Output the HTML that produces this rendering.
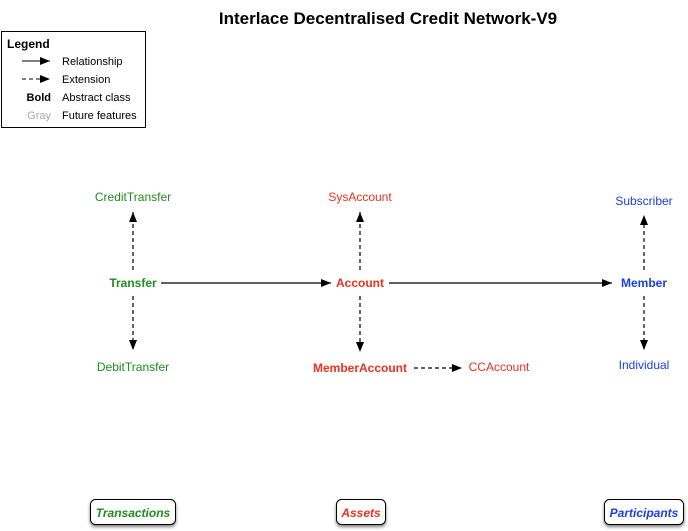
<!DOCTYPE html>
<html><head><style>
body{margin:0;background:#fff;}
svg{display:block;font-family:"Liberation Sans",sans-serif;}
</style></head><body>
<svg width="688" height="531" viewBox="0 0 688 531">
<defs>
<marker id="a" markerWidth="10" markerHeight="8" refX="10" refY="4" orient="auto" markerUnits="userSpaceOnUse"><path d="M0,0 L10,4 L0,8 z" fill="#000"/></marker>
<filter id="s" x="-20%" y="-20%" width="140%" height="160%"><feDropShadow dx="0" dy="2" stdDeviation="1.5" flood-opacity="0.5"/></filter>
</defs>
<text x="388" y="24" font-size="17" font-weight="bold" text-anchor="middle">Interlace Decentralised Credit Network-V9</text>
<rect x="1.5" y="31.5" width="144" height="96" fill="#fff" stroke="#000" stroke-width="1"/>
<text x="7" y="48" font-size="12" font-weight="bold">Legend</text>
<line x1="22" y1="61" x2="50" y2="61" stroke="#000" marker-end="url(#a)"/>
<text x="62" y="65" font-size="11">Relationship</text>
<line x1="22" y1="79" x2="50" y2="79" stroke="#000" stroke-dasharray="4,3" marker-end="url(#a)"/>
<text x="62" y="83" font-size="11">Extension</text>
<text x="51" y="101" font-size="11" font-weight="bold" text-anchor="end">Bold</text>
<text x="62" y="101" font-size="11">Abstract class</text>
<text x="51" y="119" font-size="11" fill="#aaa" text-anchor="end">Gray</text>
<text x="62" y="119" font-size="11">Future features</text>

<g font-size="12" text-anchor="middle">
<text x="133" y="201" fill="#1e8c1e">CreditTransfer</text>
<text x="133" y="287" fill="#1e8c1e" font-weight="bold">Transfer</text>
<text x="133" y="371" fill="#1e8c1e">DebitTransfer</text>
<text x="360" y="201" fill="#e8321e">SysAccount</text>
<text x="360" y="287" fill="#e8321e" font-weight="bold">Account</text>
<text x="360" y="372" fill="#e8321e" font-weight="bold">MemberAccount</text>
<text x="499" y="371" fill="#e8321e">CCAccount</text>
<text x="644" y="205" fill="#1a3fe0">Subscriber</text>
<text x="644" y="287" fill="#1a3fe0" font-weight="bold">Member</text>
<text x="644" y="369" fill="#1a3fe0">Individual</text>
</g>

<g stroke="#000" stroke-width="1.2" fill="none">
<line x1="161" y1="283" x2="331" y2="283" marker-end="url(#a)"/>
<line x1="389" y1="283" x2="612" y2="283" marker-end="url(#a)"/>
<g stroke-dasharray="4,3">
<line x1="133" y1="270" x2="133" y2="212" marker-end="url(#a)"/>
<line x1="133" y1="296" x2="133" y2="350" marker-end="url(#a)"/>
<line x1="360" y1="270" x2="360" y2="212" marker-end="url(#a)"/>
<line x1="360" y1="296" x2="360" y2="352" marker-end="url(#a)"/>
<line x1="414" y1="368" x2="462" y2="368" marker-end="url(#a)"/>
<line x1="644" y1="270" x2="644" y2="215" marker-end="url(#a)"/>
<line x1="644" y1="296" x2="644" y2="350" marker-end="url(#a)"/>
</g>
</g>

<g filter="url(#s)" fill="#fff" stroke="#000" stroke-width="1">
<rect x="90.5" y="499.5" width="85" height="25" rx="5"/>
<rect x="336.5" y="499.5" width="49" height="25" rx="5"/>
<rect x="604.5" y="499.5" width="79" height="25" rx="5"/>
</g>
<g font-size="12" font-weight="bold" font-style="italic" text-anchor="middle">
<text x="133" y="517" fill="#1e8c1e">Transactions</text>
<text x="361" y="517" fill="#e8321e">Assets</text>
<text x="644" y="517" fill="#1a3fe0">Participants</text>
</g>
</svg>
</body></html>
